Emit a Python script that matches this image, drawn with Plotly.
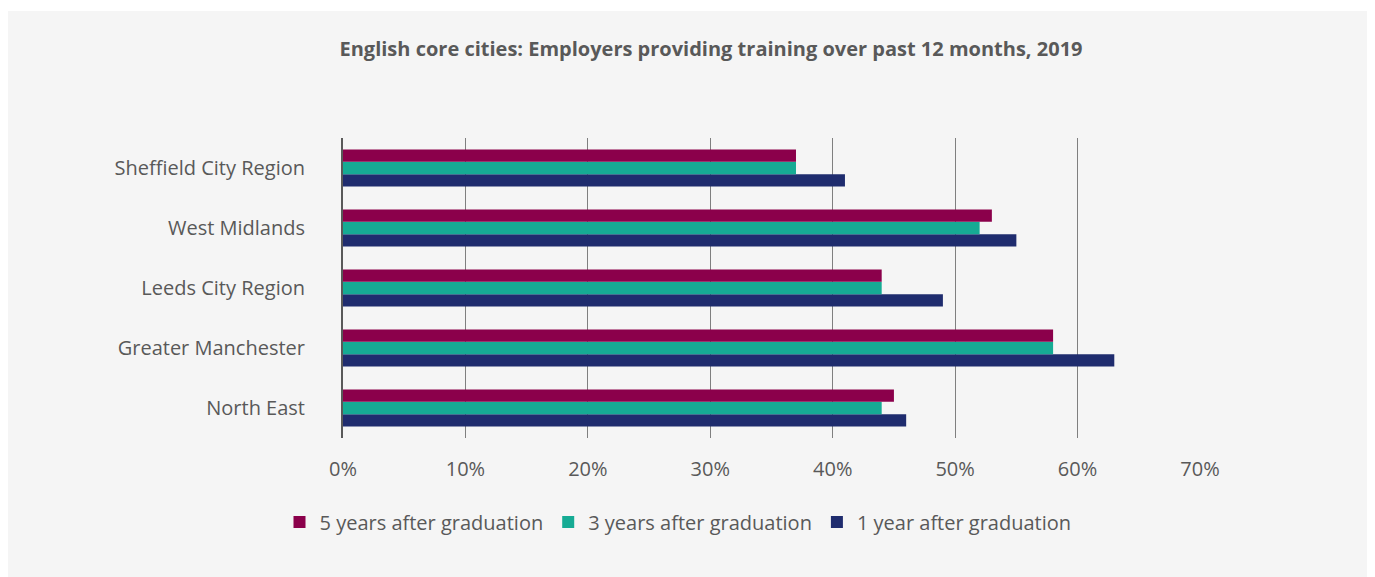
import plotly.graph_objects as go

categories = ["North East", "Greater Manchester", "Leeds City Region", "West Midlands", "Sheffield City Region"]
one_year = [46, 63, 49, 55, 41]
three_years = [44, 58, 44, 52, 37]
five_years = [45, 58, 44, 53, 37]

series_names = ["1 year after graduation", "3 years after graduation", "5 years after graduation"]
colors = ["#1f2c6e", "#16ab94", "#8b004b"]
x_ticks = [0, 10, 20, 30, 40, 50, 60, 70]
x_labels = ["0%", "10%", "20%", "30%", "40%", "50%", "60%", "70%"]

# page body has an 8px margin, so figure coordinates are screen - 8
OFF = 8
W, H = 1375 - OFF, 577 - OFF
L, R, T, B = 343 - OFF, 1200 - OFF, 138 - OFF, 438 - OFF

font_family = "Open Sans, sans-serif"
text_col = "#595959"

fig = go.Figure()
for name, vals, col in zip(series_names, [one_year, three_years, five_years], colors):
    fig.add_trace(go.Bar(
        y=categories, x=vals, name=name, orientation="h",
        marker=dict(color=col, line=dict(width=0)),
    ))

def px_x(p):
    return (p - OFF - L) / (R - L)

def px_y(p):
    return (B - (p - OFF)) / (B - T)

fig.update_layout(
    width=W, height=H,
    margin=dict(l=L, r=W - R, t=T, b=H - B, pad=0),
    paper_bgcolor="white",
    plot_bgcolor="#f5f5f5",
    barmode="group",
    bargap=0.38,
    bargroupgap=0,
    font=dict(family=font_family, color=text_col, size=20),
    title=dict(
        text="<b>English core cities: Employers providing training over past 12 months, 2019</b>",
        x=px_x(711), xref="paper", xanchor="center",
        y=1 - (49 - OFF) / H, yref="container", yanchor="middle",
        font=dict(size=20, color=text_col, family=font_family),
    ),
    xaxis=dict(
        range=[0, 70], tickvals=x_ticks, ticktext=x_labels,
        showgrid=True, gridcolor="#7f7f7f", gridwidth=1,
        zeroline=False, showline=False, ticks="",
        tickfont=dict(size=20, color=text_col),
        ticklabelstandoff=17,
        fixedrange=True,
    ),
    yaxis=dict(
        showgrid=False, zeroline=False,
        showline=True, linecolor="#595959", linewidth=2,
        ticks="", tickfont=dict(size=20, color=text_col),
        ticklabelstandoff=32,
        fixedrange=True,
    ),
    legend=dict(
        orientation="h", traceorder="reversed",
        x=px_x(678), xanchor="center", y=px_y(522), yanchor="middle",
        font=dict(size=20, color=text_col),
        bgcolor="rgba(0,0,0,0)",
        itemwidth=30,
    ),
    showlegend=True,
    shapes=[dict(
        type="rect", xref="paper", yref="paper", layer="below",
        x0=px_x(7), x1=px_x(1368), y0=px_y(580), y1=px_y(11),
        fillcolor="#f5f5f5", line=dict(width=0),
    )],
)

fig.write_html("out.html")
